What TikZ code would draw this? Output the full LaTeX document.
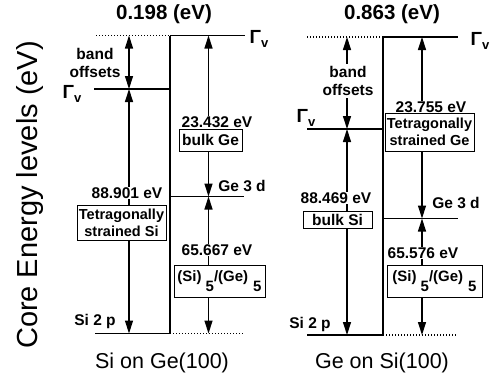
\documentclass[tikz,border=0pt]{standalone}
\usepackage{fontspec}
\setmainfont{Liberation Sans}
\usetikzlibrary{arrows.meta}
\newcommand\GammaV{{\fontsize{19}{19}\selectfont\bfseries Γ\raisebox{-4pt}{\fontsize{13}{13}\selectfont v}}}
\newcommand\SiGe{(Si)\hspace{4pt}\raisebox{-10pt}{5}/(Ge)\hspace{5pt}\raisebox{-10pt}{5}}
\begin{document}
\begin{tikzpicture}[x=1pt,y=-1pt,
  level/.style={line width=1.5pt},
  dotlevel/.style={line width=1.4pt, dash pattern=on 1.4pt off 1.6pt},
  vert/.style={line width=1.7pt},
  arr/.style={line width=1.3pt, {Triangle[length=13pt,width=8pt]}-{Triangle[length=13pt,width=8pt]}},
  val/.style={font=\fontsize{15.5}{15.5}\selectfont\bfseries, fill=white, inner sep=1pt},
  box/.style={draw, line width=0.9pt, fill=white, font=\fontsize{14.5}{17}\selectfont\bfseries, align=center, inner sep=1.5pt},
  sibox/.style={draw, line width=0.9pt, fill=white, font=\fontsize{15}{16}\selectfont\bfseries, inner sep=0pt},
  lbl/.style={font=\fontsize{15.5}{18}\selectfont\bfseries, inner sep=0pt, align=center},
  ttl/.style={font=\fontsize{20.5}{20.5}\selectfont\bfseries, inner sep=0pt},
  sub/.style={font=\fontsize{21.5}{21.5}\selectfont, inner sep=0pt},
]
\useasboundingbox (0,0) rectangle (492,381);
% ---------- left panel ----------
\coordinate (LTl) at (96,35.5);  \coordinate (LTm) at (170,35.5); \coordinate (LTr) at (245,35.5);
\coordinate (LGl) at (94,89);    \coordinate (LGm) at (170,89);
\coordinate (LDm) at (170,196.5);\coordinate (LDr) at (244,196.5);
\coordinate (LBl) at (95,333.5); \coordinate (LBm) at (170,333.5); \coordinate (LBr) at (243,333.5);
\coordinate (LA1t) at (129,35.5); \coordinate (LA1m) at (129,89); \coordinate (LA1b) at (129,333.5);
\coordinate (LA2t) at (208.5,35.5); \coordinate (LA2m) at (208.5,196.5); \coordinate (LA2b) at (208.5,333.5);
\draw[dotlevel] (LTl) -- (LTm);
\draw[level] (LTm) -- (LTr);
\draw[level] (LGl) -- (LGm);
\draw[level] (LDm) -- (LDr);
\draw[level] (LBl) -- (LBm);
\draw[dotlevel] (LBm) -- (LBr);
\draw[vert] (LTm) -- (LBm);
\draw[arr] (LA1t) -- (LA1m);
\draw[arr] (LA1m) -- (LA1b);
\draw[arr] (LA2t) -- (LA2m);
\draw[arr] (LA2m) -- (LA2b);
\node[ttl] (Lttl) at (164,14) {0.198 (eV)};
\node[inner sep=0pt] (LGtop) at (259,39) {\GammaV};
\node[inner sep=0pt] (LGleft) at (72,94) {\GammaV};
\node[lbl] (Lband) at (95,63) {band\\offsets};
\node[val] (Lv1) at (127,193) {88.901 eV};
\node[box, minimum width=89pt, minimum height=35pt] (Lb1) at (121.5,222.5) {Tetragonally\\strained Si};
\node[val] (Lv2) at (217,122) {23.432 eV};
\node[box, font=\fontsize{15.5}{15.5}\selectfont\bfseries, minimum width=63pt, minimum height=22pt] (Lb2) at (210.5,140) {bulk Ge};
\node[lbl] (LGe) at (242,186) {Ge 3 d};
\node[val] (Lv3) at (217,250) {65.667 eV};
\node[sibox, minimum width=91pt, minimum height=32pt] (Lb3) at (219.5,281) {\SiGe};
\node[lbl] (LSi) at (95,321) {Si 2 p};
\node[sub] (Lsub) at (162,363) {Si on Ge(100)};
% ---------- right panel ----------
\coordinate (RTl) at (307,37);   \coordinate (RTm) at (383,37);  \coordinate (RTr) at (458,37);
\coordinate (RGl) at (307,129);  \coordinate (RGm) at (383,129);
\coordinate (RDm) at (383,218.5);\coordinate (RDr) at (458,218.5);
\coordinate (RBl) at (307,335);  \coordinate (RBm) at (383,335); \coordinate (RBr) at (457,335);
\coordinate (RA1t) at (347,37); \coordinate (RA1m) at (347,129); \coordinate (RA1b) at (347,335);
\coordinate (RA2t) at (422,37); \coordinate (RA2m) at (422,218.5); \coordinate (RA2b) at (422,335);
\draw[dotlevel] (RTl) -- (RTm);
\draw[level] (RTm) -- (RTr);
\draw[level] (RGl) -- (RGm);
\draw[level] (RDm) -- (RDr);
\draw[level] (RBl) -- (RBm);
\draw[dotlevel] (RBm) -- (RBr);
\draw[vert] (RTm) -- (RBm);
\draw[arr] (RA1t) -- (RA1m);
\draw[arr] (RA1m) -- (RA1b);
\draw[arr] (RA2t) -- (RA2m);
\draw[arr] (RA2m) -- (RA2b);
\node[ttl] (Rttl) at (392,14) {0.863 (eV)};
\node[inner sep=0pt] (RGtop) at (480,41) {\GammaV};
\node[inner sep=0pt] (RGleft) at (306,118) {\GammaV};
\node[lbl, fill=white, inner sep=2pt] (Rband) at (348,81) {band\\offsets};
\node[val] (Rv1) at (336,198) {88.469 eV};
\node[box, font=\fontsize{15.5}{15.5}\selectfont\bfseries, minimum width=69pt, minimum height=17pt] (Rb1) at (337.5,220) {bulk Si};
\node[val] (Rv2) at (431,107) {23.755 eV};
\node[box, minimum width=89pt, minimum height=38pt] (Rb2) at (429.5,132) {Tetragonally\\strained Ge};
\node[lbl] (RGe) at (456,203) {Ge 3 d};
\node[val] (Rv3) at (423,253) {65.576 eV};
\node[sibox, minimum width=95pt, minimum height=32pt] (Rb3) at (434.5,281) {\SiGe};
\node[lbl] (RSi) at (310,324) {Si 2 p};
\node[sub] (Rsub) at (382,363) {Ge on Si(100)};
% ---------- axis label ----------
\node[rotate=90, font=\fontsize{29}{29}\selectfont, inner sep=0pt] (ylab) at (30,195) {Core Energy levels (eV)};
\end{tikzpicture}
\end{document}
